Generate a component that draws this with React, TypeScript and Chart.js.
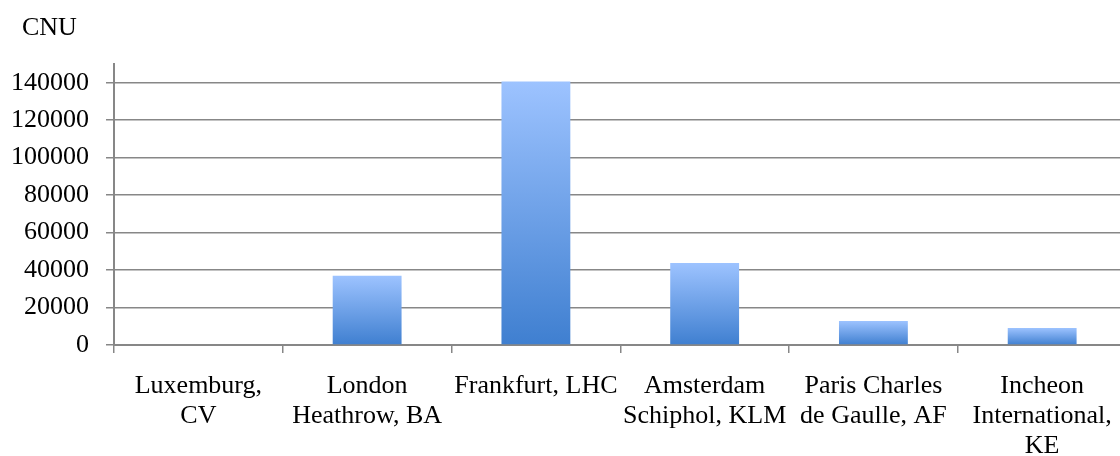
import React, { useEffect, useRef } from "react";
import { Chart, registerables } from "chart.js";

Chart.register(...registerables);

// Airport / carrier categories, split into the lines shown under the axis
const categories: string[][] = [
  ["Luxemburg,", "CV"],
  ["London", "Heathrow, BA"],
  ["Frankfurt, LHC"],
  ["Amsterdam", "Schiphol, KLM"],
  ["Paris Charles", "de Gaulle, AF"],
  ["Incheon", "International,", "KE"],
];

// CNU per airport
const cnuValues: number[] = [0, 37000, 140600, 43800, 12800, 9100];

// Value axis: labelled ticks and the (unlabelled) top of the axis
const yTicks: number[] = [0, 20000, 40000, 60000, 80000, 100000, 120000, 140000];
const yMax = 150000;
const unitLabel = "CNU";

const FONT = "'Liberation Serif', 'Times New Roman', serif";
const GRID = "#878787";

const unitLabelPlugin = {
  id: "unitLabel",
  afterDraw(chart: Chart) {
    const ctx = chart.ctx;
    ctx.save();
    ctx.font = `26px ${FONT}`;
    ctx.fillStyle = "#000";
    ctx.textAlign = "left";
    ctx.textBaseline = "alphabetic";
    ctx.fillText(unitLabel, 22, 35);
    ctx.restore();
  },
};

export default function App() {
  const canvasRef = useRef<HTMLCanvasElement | null>(null);

  useEffect(() => {
    document.body.style.margin = "0";
    const canvas = canvasRef.current;
    if (!canvas) return;

    const chart = new Chart(canvas, {
      type: "bar",
      data: {
        labels: categories,
        datasets: [
          {
            data: cnuValues,
            barPercentage: 0.408,
            categoryPercentage: 1,
            borderWidth: 0,
            backgroundColor: (c: any) => {
              const ch = c.chart;
              const y = ch.scales?.y;
              if (!y || c.raw == null) return "#6a9ee8";
              const top = y.getPixelForValue(c.raw as number);
              const base = y.getPixelForValue(0);
              if (!isFinite(top) || !isFinite(base) || top === base) return "#6a9ee8";
              const g = ch.ctx.createLinearGradient(0, top, 0, base);
              g.addColorStop(0, "#9dc3ff");
              g.addColorStop(1, "#3f7fd0");
              return g;
            },
          },
        ],
      },
      options: {
        responsive: false,
        animation: false,
        maintainAspectRatio: false,
        layout: { padding: { top: 64, right: 2, bottom: 0, left: 0 } },
        plugins: {
          legend: { display: false },
          tooltip: { enabled: false },
          title: { display: false },
        },
        scales: {
          x: {
            offset: true,
            grid: {
              offset: true,
              drawOnChartArea: false,
              drawTicks: true,
              tickLength: 8,
              color: GRID,
              lineWidth: 1.5,
            },
            border: { display: true, color: GRID, width: 2 },
            ticks: {
              color: "#000",
              font: { family: FONT, size: 26, lineHeight: 1.15 },
              padding: 18,
              maxRotation: 0,
              autoSkip: false,
            },
            afterFit(scale: any) {
              scale.height = 456 - 345;
            },
          },
          y: {
            min: 0,
            max: yMax,
            afterBuildTicks(scale: any) {
              scale.ticks = yTicks.map((v) => ({ value: v }));
            },
            ticks: {
              color: "#000",
              font: { family: FONT, size: 26 },
              padding: 17,
              autoSkip: false,
              callback: (v: any) => String(v),
            },
            grid: {
              color: GRID,
              lineWidth: 1.5,
              tickLength: 8,
              drawTicks: true,
            },
            border: { display: true, color: GRID, width: 2 },
            afterFit(scale: any) {
              scale.width = 114;
            },
          },
        },
      },
      plugins: [unitLabelPlugin],
    });

    return () => chart.destroy();
  }, []);

  return (
    <div
      style={{
        position: "fixed",
        left: 0,
        top: 0,
        width: 1120,
        height: 456,
        overflow: "hidden",
        background: "#fff",
      }}
    >
      <canvas ref={canvasRef} width={1130} height={456} style={{ display: "block" }} />
    </div>
  );
}
